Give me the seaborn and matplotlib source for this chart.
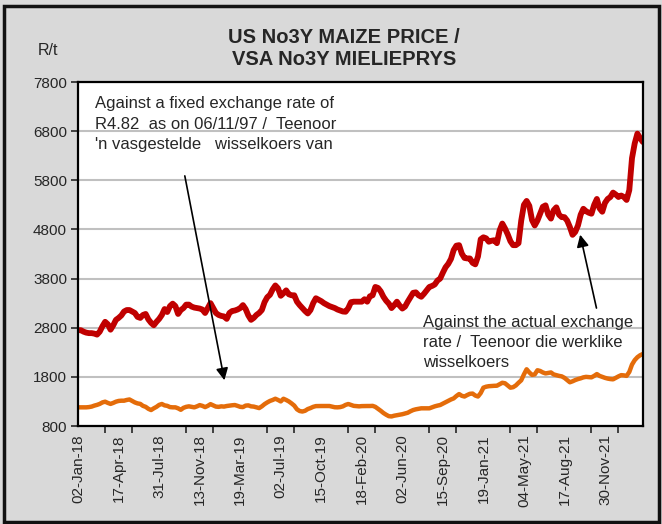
import numpy as np
import pandas as pd
import matplotlib
matplotlib.use("Agg")
import matplotlib.pyplot as plt
import seaborn as sns
from matplotlib.patches import Rectangle

# Weekly US No3Y maize price in R/t
actual_rate = [
    2750, 2750, 2720, 2700, 2690, 2690, 2680, 2660, 2720, 2830,
    2920, 2870, 2760, 2850, 2960, 3000, 3050, 3130, 3160, 3160,
    3130, 3100, 3020, 3000, 3060, 3080, 2970, 2900, 2850, 2920,
    2980, 3060, 3180, 3120, 3240, 3290, 3240, 3080, 3160, 3200,
    3270, 3270, 3230, 3210, 3200, 3190, 3170, 3100, 3200, 3300,
    3200, 3100, 3060, 3040, 3030, 2980, 3100, 3140, 3150, 3170,
    3200, 3260, 3180, 3050, 2960, 3000, 3060, 3100, 3160, 3320,
    3420, 3470, 3580, 3660, 3600, 3450, 3500, 3560, 3480, 3460,
    3460, 3330, 3260, 3200, 3140, 3090, 3160, 3300, 3400, 3370,
    3340, 3300, 3270, 3240, 3220, 3200, 3170, 3150, 3130, 3125,
    3200, 3320, 3330, 3330, 3330, 3330, 3380, 3330, 3440, 3460,
    3630, 3610, 3540, 3430, 3350, 3290, 3200, 3260, 3330, 3250,
    3190, 3230, 3330, 3420, 3510, 3520, 3460, 3430, 3490, 3560,
    3630, 3650, 3680, 3760, 3800, 3920, 4030, 4100, 4200, 4380,
    4470, 4480, 4310, 4220, 4210, 4210, 4120, 4090, 4250, 4600,
    4640, 4620, 4550, 4570, 4580, 4520, 4780, 4920, 4820, 4700,
    4560, 4480, 4480, 4520, 4980, 5300, 5380, 5280, 4990, 4880,
    4980, 5120, 5260, 5290, 5100, 5020, 5190, 5250, 5100, 5050,
    5050, 4980, 4850, 4690, 4750, 4880, 5100, 5220, 5170, 5140,
    5120, 5300, 5420, 5230, 5160, 5340, 5420, 5460, 5550, 5510,
    5460, 5490, 5460, 5400, 5600, 6250, 6550, 6750, 6660, 6580,
]

# Same price at the fixed exchange rate of R4.82
fixed_rate = [
    1180, 1180, 1180, 1180, 1185, 1195, 1215, 1230, 1250, 1280,
    1295, 1270, 1250, 1270, 1295, 1310, 1315, 1315, 1330, 1340,
    1310, 1280, 1260, 1250, 1210, 1190, 1150, 1125, 1160, 1190,
    1230, 1248, 1220, 1210, 1185, 1180, 1180, 1160, 1130, 1170,
    1190, 1200, 1190, 1180, 1200, 1225, 1210, 1185, 1210, 1245,
    1220, 1195, 1190, 1200, 1195, 1207, 1215, 1222, 1227, 1210,
    1190, 1185, 1215, 1220, 1200, 1195, 1180, 1165, 1200, 1245,
    1280, 1310, 1330, 1355, 1330, 1300, 1355, 1330, 1300, 1260,
    1215, 1140, 1105, 1095, 1110, 1145, 1165, 1190, 1205, 1207,
    1207, 1207, 1207, 1207, 1195, 1182, 1180, 1185, 1200, 1230,
    1248, 1230, 1210, 1205, 1200, 1205, 1207, 1207, 1207, 1210,
    1190, 1150, 1110, 1065, 1030, 1000, 995, 1010, 1020, 1030,
    1040, 1055, 1070, 1100, 1125, 1140, 1150, 1160, 1160, 1160,
    1160, 1180, 1200, 1215, 1227, 1255, 1285, 1310, 1340, 1362,
    1410, 1450, 1415, 1400, 1430, 1455, 1460, 1420, 1400, 1470,
    1580, 1600, 1610, 1615, 1618, 1620, 1650, 1680, 1670, 1625,
    1580, 1590, 1625, 1680, 1730, 1850, 1955, 1890, 1840, 1850,
    1935, 1920, 1890, 1870, 1880, 1890, 1850, 1835, 1820, 1810,
    1780, 1735, 1690, 1710, 1735, 1755, 1770, 1790, 1800, 1795,
    1790, 1820, 1857, 1820, 1800, 1780, 1765, 1755, 1750, 1780,
    1810, 1835, 1830, 1820, 1900, 2050, 2140, 2200, 2240, 2265,
]

# Category labels, one every 15 weeks
date_labels = [
    "02-Jan-18", "17-Apr-18", "31-Jul-18", "13-Nov-18", "19-Mar-19",
    "02-Jul-19", "15-Oct-19", "18-Feb-20", "02-Jun-20", "15-Sep-20",
    "19-Jan-21", "04-May-21", "17-Aug-21", "30-Nov-21",
]

y_ticks = [800, 1800, 2800, 3800, 4800, 5800, 6800, 7800]

df = pd.DataFrame(
    {"week": np.arange(len(actual_rate)), "actual": actual_rate, "fixed": fixed_rate}
)

sns.set_style("white")
plt.rcParams["font.family"] = ["Liberation Sans", "DejaVu Sans"]

fig = plt.figure(figsize=(6.62, 5.24), dpi=100, facecolor="#d9d9d9")
fig.patches.append(
    Rectangle((0.006, 0.004), 0.99, 0.984, transform=fig.transFigure,
              fill=False, edgecolor="#111111", lw=2.5)
)
ax = fig.add_axes([0.118, 0.187, 0.853, 0.6565])
ax.set_facecolor("white")

sns.lineplot(data=df, x="week", y="actual", color="#c00000", lw=4.2, ax=ax)
sns.lineplot(data=df, x="week", y="fixed", color="#e46c0a", lw=3.2, ax=ax)

ax.set_xlim(0, len(actual_rate) - 1)
ax.set_ylim(800, 7800)
ax.set_yticks(y_ticks)
ax.set_yticklabels([str(v) for v in y_ticks], fontsize=11)
ax.set_xticks(np.arange(0, 15 * len(date_labels), 15))
ax.set_xticklabels(date_labels, rotation=90, fontsize=11)
ax.set_xticks(np.arange(0, len(actual_rate), 10), minor=True)
ax.tick_params(axis="x", which="major", length=0, pad=6)
ax.tick_params(axis="x", which="minor", length=5, width=1.2, direction="out", bottom=True)
ax.tick_params(axis="y", length=5, width=1.2, direction="out", left=True, pad=3)
ax.set_xlabel("")
ax.set_ylabel("")

ax.grid(axis="y", color="#c0c0c0", lw=1.5)
ax.set_axisbelow(True)
for s in ax.spines.values():
    s.set_color("black")
    s.set_linewidth(1.6)

fig.text(0.52, 0.907, "US No3Y MAIZE PRICE /\nVSA No3Y MIELIEPRYS", ha="center",
         va="center", fontsize=14.5, fontweight="bold", linespacing=1.2)
fig.text(0.073, 0.903, "R/t", ha="center", va="center", fontsize=11.5)

ax.text(0.030, 0.958, "Against a fixed exchange rate of\nR4.82  as on 06/11/97 /  Teenoor\n'n vasgestelde   wisselkoers van",
        transform=ax.transAxes, ha="left", va="top", fontsize=12, linespacing=1.45)
ax.annotate("", xy=(0.260, 0.125), xytext=(0.188, 0.735),
            xycoords="axes fraction", textcoords="axes fraction",
            arrowprops=dict(arrowstyle="-|>", color="black", lw=1.2, mutation_scale=18))

ax.text(0.611, 0.322, "Against the actual exchange\nrate /  Teenoor die werklike\nwisselkoers",
        transform=ax.transAxes, ha="left", va="top", fontsize=12, linespacing=1.4)
ax.annotate("", xy=(0.888, 0.564), xytext=(0.919, 0.335),
            xycoords="axes fraction", textcoords="axes fraction",
            arrowprops=dict(arrowstyle="-|>", color="black", lw=1.2, mutation_scale=18))

fig.savefig("out.png", dpi=100, facecolor=fig.get_facecolor())
